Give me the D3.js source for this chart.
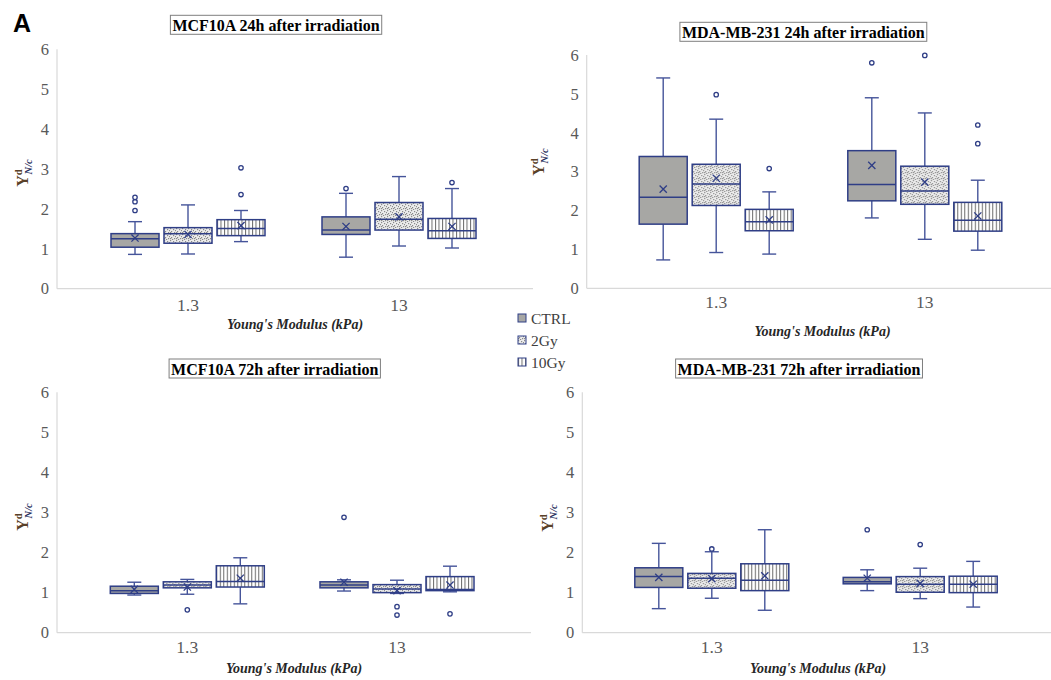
<!DOCTYPE html>
<html>
<head>
<meta charset="utf-8">
<script src="https://cdn.jsdelivr.net/npm/d3@7"></script>
<style>
  body { margin: 0; background: #fff; }
  svg { display: block; }
  .serif { font-family: 'Liberation Serif', 'Times New Roman', Times, 'DejaVu Serif', serif; }
</style>
</head>
<body>
<script>
const width = 1051;
const height = 680;

const categories = ['1.3', '13'];
const series = ['CTRL', '2Gy', '10Gy'];
const yTicks = [0, 1, 2, 3, 4, 5, 6];

// rows: [category, series, whiskerLow, q1, median, q3, whiskerHigh, mean, outliers]
const mcf10a24h = [
  ['1.3', 'CTRL', 0.86, 1.04, 1.25, 1.38, 1.68, 1.27, [1.96, 2.18, 2.29]],
  ['1.3', '2Gy', 0.87, 1.14, 1.38, 1.53, 2.10, 1.36, []],
  ['1.3', '10Gy', 1.18, 1.33, 1.51, 1.73, 1.96, 1.58, [2.36, 3.03]],
  ['13', 'CTRL', 0.79, 1.36, 1.47, 1.80, 2.39, 1.56, [2.51]],
  ['13', '2Gy', 1.07, 1.47, 1.74, 2.16, 2.81, 1.80, []],
  ['13', '10Gy', 1.02, 1.26, 1.45, 1.76, 2.51, 1.56, [2.66]]
];
const mda24h = [
  ['1.3', 'CTRL', 0.73, 1.65, 2.34, 3.39, 5.41, 2.55, []],
  ['1.3', '2Gy', 0.92, 2.13, 2.68, 3.19, 4.35, 2.83, [4.98]],
  ['1.3', '10Gy', 0.88, 1.48, 1.71, 2.03, 2.48, 1.76, [3.08]],
  ['13', 'CTRL', 1.81, 2.25, 2.67, 3.54, 4.90, 3.16, [5.80]],
  ['13', '2Gy', 1.26, 2.16, 2.50, 3.14, 4.51, 2.73, [5.99]],
  ['13', '10Gy', 0.98, 1.47, 1.75, 2.21, 2.78, 1.86, [3.72, 4.20]]
];
const mcf10a72h = [
  ['1.3', 'CTRL', 0.94, 0.98, 1.05, 1.16, 1.26, 1.08, []],
  ['1.3', '2Gy', 0.96, 1.12, 1.19, 1.27, 1.33, 1.14, [0.57]],
  ['1.3', '10Gy', 0.72, 1.14, 1.28, 1.67, 1.87, 1.36, []],
  ['13', 'CTRL', 1.04, 1.12, 1.19, 1.27, 1.32, 1.26, [2.88]],
  ['13', '2Gy', 0.98, 1.00, 1.09, 1.20, 1.31, 1.05, [0.44, 0.65]],
  ['13', '10Gy', 1.02, 1.05, 1.08, 1.40, 1.66, 1.19, [0.47]]
];
const mda72h = [
  ['1.3', 'CTRL', 0.60, 1.13, 1.40, 1.62, 2.23, 1.38, []],
  ['1.3', '2Gy', 0.86, 1.11, 1.36, 1.48, 2.02, 1.35, [2.09]],
  ['1.3', '10Gy', 0.56, 1.05, 1.31, 1.72, 2.57, 1.42, []],
  ['13', 'CTRL', 1.05, 1.22, 1.27, 1.38, 1.57, 1.36, [2.57]],
  ['13', '2Gy', 0.85, 1.01, 1.21, 1.40, 1.61, 1.23, [2.20]],
  ['13', '10Gy', 0.64, 1.00, 1.21, 1.41, 1.78, 1.21, []]
];

// layout of the four panels
const panels = [
  { data: mcf10a24h, title: 'MCF10A 24h after irradiation', ax: 57, yTop: 49.3, yBot: 288.7,
    c1: 188, c2: 399, axEnd: 533, titleX: 276, titleY: 15.3, tickY: 311, xlabX: 295, xlabY: 329, ylabX: 28, ylabY: 173 },
  { data: mda24h, title: 'MDA-MB-231 24h after irradiation', ax: 586.7, yTop: 55, yBot: 288.3,
    c1: 716.2, c2: 924.8, axEnd: 1051, titleX: 803.3, titleY: 22.3, tickY: 308, xlabX: 822.5, xlabY: 336, ylabX: 544, ylabY: 162 },
  { data: mcf10a72h, title: 'MCF10A 72h after irradiation', ax: 57, yTop: 392.3, yBot: 632.7,
    c1: 187.3, c2: 397, axEnd: 531, titleX: 274.7, titleY: 359, tickY: 653, xlabX: 294, xlabY: 672.5, ylabX: 28, ylabY: 517 },
  { data: mda72h, title: 'MDA-MB-231 72h after irradiation', ax: 582.3, yTop: 392.3, yBot: 632.7,
    c1: 711.8, c2: 920.2, axEnd: 1051, titleX: 799, titleY: 359, tickY: 653, xlabX: 818, xlabY: 673, ylabX: 553, ylabY: 518 }
];

const navy = '#2f3e86';
const whiskerColor = '#45549a';

const svg = d3.select('body').append('svg')
  .attr('width', width)
  .attr('height', height);

// fill patterns
const defs = svg.append('defs');
const dots = defs.append('pattern')
  .attr('id', 'dots')
  .attr('patternUnits', 'userSpaceOnUse')
  .attr('width', 6).attr('height', 6);
dots.append('rect').attr('width', 6).attr('height', 6).attr('fill', '#ececec');
[[0, 0], [3, 1], [1, 3], [4, 4], [5, 2], [2, 5], [0, 4]].forEach(([px, py]) => {
  dots.append('rect').attr('x', px).attr('y', py).attr('width', 1.2).attr('height', 1.2).attr('fill', '#8a8a8a');
});
const stripes = defs.append('pattern')
  .attr('id', 'stripes')
  .attr('patternUnits', 'userSpaceOnUse')
  .attr('width', 3.5).attr('height', 4);
stripes.append('rect').attr('width', 3.5).attr('height', 4).attr('fill', '#fff');
stripes.append('rect').attr('x', 0).attr('width', 1).attr('height', 4).attr('fill', '#6a6a6a');

const fills = { CTRL: '#a7a7a4', '2Gy': 'url(#dots)', '10Gy': 'url(#stripes)' };

function drawPanel(p) {
  const g = svg.append('g');

  const y = d3.scaleLinear().domain([0, 6]).range([p.yBot, p.yTop]);
  const step = p.c2 - p.c1;
  const x0 = d3.scaleBand().domain(categories).range([p.c1 - step / 2, p.c2 + step / 2]);
  const groupW = 154;
  const x1 = d3.scaleBand().domain(series).range([0, groupW]).paddingInner(0.094);
  const bw = x1.bandwidth();

  // axis lines
  g.append('line')
    .attr('x1', p.ax).attr('x2', p.ax).attr('y1', y(6)).attr('y2', y(0))
    .attr('stroke', '#d9d9d9').attr('stroke-width', 1.2);
  g.append('line')
    .attr('x1', p.ax).attr('x2', p.axEnd).attr('y1', y(0)).attr('y2', y(0))
    .attr('stroke', '#d9d9d9').attr('stroke-width', 1.2);

  // y ticks
  const yAxis = g.append('g')
    .attr('transform', `translate(${p.ax - 8},0)`)
    .call(d3.axisLeft(y).tickValues(yTicks).tickSize(0).tickPadding(0).tickFormat(d3.format('d')));
  yAxis.select('.domain').remove();
  yAxis.attr('font-family', null);
  yAxis.selectAll('text')
    .attr('class', 'serif').attr('font-size', 16.5).attr('fill', '#595959');

  // x ticks
  const xAxis = g.append('g')
    .attr('transform', `translate(0,${p.tickY})`)
    .call(d3.axisBottom(x0).tickSize(0).tickPadding(0));
  xAxis.select('.domain').remove();
  xAxis.attr('font-family', null);
  xAxis.selectAll('text')
    .attr('dy', 0)
    .attr('class', 'serif').attr('font-size', 17.5).attr('fill', '#595959');

  // title
  const t = g.append('text')
    .attr('class', 'serif')
    .attr('x', p.titleX).attr('y', p.titleY + 15.5)
    .attr('text-anchor', 'middle')
    .attr('font-size', 16).attr('font-weight', 'bold')
    .attr('fill', '#000')
    .text(p.title);
  const bb = t.node().getBBox();
  g.insert('rect', () => t.node())
    .attr('x', bb.x - 2).attr('y', p.titleY)
    .attr('width', bb.width + 4).attr('height', 19)
    .attr('fill', '#fff').attr('stroke', '#7f7f7f').attr('stroke-width', 1);

  // x axis title
  g.append('text')
    .attr('class', 'serif')
    .attr('x', p.xlabX).attr('y', p.xlabY)
    .attr('text-anchor', 'middle')
    .attr('font-style', 'italic').attr('font-weight', 'bold')
    .attr('font-size', 14)
    .attr('fill', '#262626')
    .text("Young's Modulus (kPa)");

  // y axis title
  const yl = g.append('text')
    .attr('class', 'serif')
    .attr('transform', `translate(${p.ylabX},${p.ylabY}) rotate(-90)`)
    .attr('text-anchor', 'middle')
    .attr('font-weight', 'bold')
    .attr('fill', '#5a4128');
  yl.append('tspan').attr('font-size', 16).text('Y');
  yl.append('tspan').attr('font-size', 10.5).attr('dy', -6).text('d');
  yl.append('tspan').attr('font-size', 10.5).attr('dx', -5).attr('dy', 10)
    .attr('font-style', 'italic').attr('fill', '#1f2d5c').text('N/c');

  // boxes
  const boxes = g.selectAll('.box')
    .data(p.data)
    .enter().append('g')
      .attr('class', 'box')
      .attr('transform', d => `translate(${x0(d[0]) + x0.bandwidth() / 2 - groupW / 2 + x1(d[1])},0)`);

  const cx = bw / 2;
  const cap = 7;

  // whiskers
  boxes.append('line')
    .attr('x1', cx).attr('x2', cx).attr('y1', d => y(d[6])).attr('y2', d => y(d[5]))
    .attr('stroke', whiskerColor).attr('stroke-width', 1.4);
  boxes.append('line')
    .attr('x1', cx).attr('x2', cx).attr('y1', d => y(d[3])).attr('y2', d => y(d[2]))
    .attr('stroke', whiskerColor).attr('stroke-width', 1.4);
  boxes.append('line')
    .attr('x1', cx - cap).attr('x2', cx + cap).attr('y1', d => y(d[6])).attr('y2', d => y(d[6]))
    .attr('stroke', whiskerColor).attr('stroke-width', 1.4);
  boxes.append('line')
    .attr('x1', cx - cap).attr('x2', cx + cap).attr('y1', d => y(d[2])).attr('y2', d => y(d[2]))
    .attr('stroke', whiskerColor).attr('stroke-width', 1.4);

  // box body
  boxes.append('rect')
    .attr('x', 0).attr('width', bw)
    .attr('y', d => y(d[5])).attr('height', d => y(d[3]) - y(d[5]))
    .attr('fill', d => fills[d[1]])
    .attr('stroke', navy).attr('stroke-width', 1.5);

  // median
  boxes.append('line')
    .attr('x1', 0).attr('x2', bw).attr('y1', d => y(d[4])).attr('y2', d => y(d[4]))
    .attr('stroke', navy).attr('stroke-width', 1.5);

  // mean marker
  const m = 3.6;
  boxes.append('path')
    .attr('d', d => `M${cx - m},${y(d[7]) - m}L${cx + m},${y(d[7]) + m}M${cx - m},${y(d[7]) + m}L${cx + m},${y(d[7]) - m}`)
    .attr('stroke', navy).attr('stroke-width', 1.3).attr('fill', 'none');

  // outliers
  boxes.selectAll('circle')
    .data(d => d[8])
    .enter().append('circle')
      .attr('cx', cx).attr('cy', v => y(v)).attr('r', 2.2)
      .attr('fill', '#fff').attr('stroke', navy).attr('stroke-width', 1.3);
}

panels.forEach(drawPanel);

// legend
const legend = svg.append('g').attr('transform', 'translate(518,318)');
series.forEach((s, i) => {
  const row = legend.append('g').attr('transform', `translate(0,${i * 22})`);
  row.append('rect')
    .attr('x', 0).attr('y', -4).attr('width', 8).attr('height', 8)
    .attr('fill', fills[s]).attr('stroke', navy).attr('stroke-width', 1);
  row.append('text')
    .attr('class', 'serif')
    .attr('x', 13).attr('y', 5.5)
    .attr('font-size', 15.5).attr('fill', '#404040')
    .text(s);
});

// panel letter
svg.append('text')
  .attr('x', 13).attr('y', 32)
  .attr('font-family', 'Liberation Sans, Arial, sans-serif')
  .attr('font-weight', 'bold').attr('font-size', 25)
  .attr('fill', '#000')
  .text('A');
</script>
</body>
</html>
